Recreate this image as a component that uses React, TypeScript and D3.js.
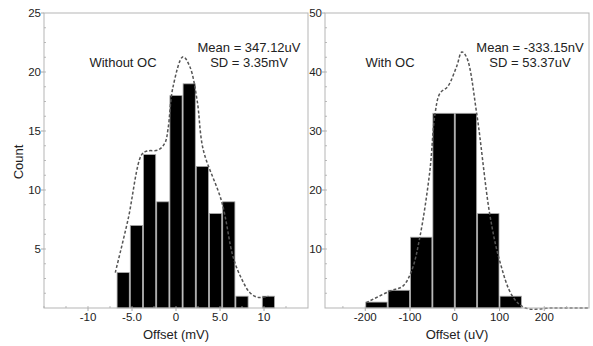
import React from "react";
import * as d3 from "d3";

// left panel: without offset cancellation (mV)
const leftEdges = [-6.75, -5.25, -3.75, -2.25, -0.75, 0.75, 2.25, 3.75, 5.25, 6.75, 8.25, 9.75, 11.25];
const leftCounts = [3, 7, 13, 9, 18, 19, 12, 8, 9, 1, 0, 1];
const leftCurveX = [-6.9, -5.45, -3.9, -3.3, -2.0, -1.25, -0.9, -0.35, 0.8, 1.6, 2.4, 3.1, 5.2, 6.5, 7.5, 8.4, 9.3, 10.5];
const leftCurveY = [3.0, 7.5, 13.0, 13.3, 13.4, 14.0, 15.2, 18.7, 21.3, 20.4, 17.6, 13.4, 9.0, 4.3, 2.4, 1.3, 0.9, 1.0];
const leftXTicks = [-10, -5, 0, 5, 10];
const leftXTickLabels = ["-10", "-5.0", "0", "5.0", "10"];
const leftYTicks = [5, 10, 15, 20, 25];

// right panel: with offset cancellation (uV)
const rightEdges = [-200, -150, -100, -50, 0, 50, 100, 150];
const rightCounts = [1, 3, 12, 33, 33, 16, 2];
const rightCurveX = [-198, -144, -116, -96, -78, -56, -44, -33, -16, 4, 16, 27, 49, 78, 100, 129, 158, 220, 298];
const rightCurveY = [0.9, 2.9, 3.7, 6.4, 12, 23, 33, 36.4, 37.5, 40.9, 43.4, 42.4, 33, 16, 8.1, 2, 0, 0, 0];
const rightXTicks = [-200, -100, 0, 100, 200];
const rightYTicks = [10, 20, 30, 40, 50];

const W = 593;
const H = 346;
const top = 13;
const bottom = 308;
const font = "'Liberation Sans', Arial, sans-serif";

interface PanelProps {
    x0: number;
    x1: number;
    xDomain: [number, number];
    yMax: number;
    edges: number[];
    counts: number[];
    curveX: number[];
    curveY: number[];
    xTicks: number[];
    xTickLabels: string[];
    yTicks: number[];
    xMinor: number;
    yMinor: number;
    xLabel: string;
    title: string;
    titleX: number;
    stat1: string;
    stat2: string;
    statX: number;
}

function Panel(p: PanelProps) {
    const x = d3.scaleLinear().domain(p.xDomain).range([p.x0, p.x1]);
    const y = d3.scaleLinear().domain([0, p.yMax]).range([bottom, top]);
    const line = d3.line<number>()
        .x((_, i) => x(p.curveX[i]))
        .y(d => y(d))
        .curve(d3.curveCatmullRom.alpha(0.5));

    const minorX = d3.range(Math.ceil(p.xDomain[0] / p.xMinor) * p.xMinor, p.xDomain[1], p.xMinor);
    const minorY = d3.range(p.yMinor, p.yMax, p.yMinor);

    return (
        <g>
            {p.counts.map((c, i) => c > 0 && (
                <rect key={i}
                    x={x(p.edges[i]) + 0.5}
                    y={y(c)}
                    width={x(p.edges[i + 1]) - x(p.edges[i]) - 1}
                    height={y(0) - y(c)}
                    fill="#000"
                    stroke="#aaa"
                    strokeWidth={0.8} />
            ))}
            <path d={line(p.curveY) || ""} fill="none" stroke="#555" strokeWidth={1.5} strokeDasharray="3,2" />
            <rect x={p.x0} y={top} width={p.x1 - p.x0} height={bottom - top} fill="none" stroke="#b5b5b5" strokeWidth={1} />
            {minorX.map((v, i) => (
                <line key={"mx" + i} x1={x(v)} x2={x(v)} y1={bottom} y2={bottom - 2} stroke="#aaa" strokeWidth={0.8} />
            ))}
            {minorY.map((v, i) => (
                <line key={"my" + i} x1={p.x0} x2={p.x0 + 2} y1={y(v)} y2={y(v)} stroke="#aaa" strokeWidth={0.8} />
            ))}
            {p.xTicks.map((v, i) => (
                <g key={"xt" + i}>
                    <line x1={x(v)} x2={x(v)} y1={bottom} y2={bottom + 3} stroke="#aaa" />
                    <text x={x(v)} y={bottom + 13} textAnchor="middle" fontSize={11.5} fontFamily={font} fill="#222">
                        {p.xTickLabels[i]}
                    </text>
                </g>
            ))}
            {p.yTicks.map((v, i) => (
                <g key={"yt" + i}>
                    <line x1={p.x0 - 3} x2={p.x0} y1={y(v)} y2={y(v)} stroke="#aaa" />
                    <text x={p.x0 - 3} y={y(v) + 4} textAnchor="end" fontSize={11.5} fontFamily={font} fill="#222">{v}</text>
                </g>
            ))}
            <text x={(p.x0 + p.x1) / 2} y={339} textAnchor="middle" fontSize={13} fontFamily={font} fill="#222">{p.xLabel}</text>
            <text x={p.titleX} y={67} textAnchor="middle" fontSize={13} fontFamily={font} fill="#222">{p.title}</text>
            <text x={p.statX} y={52} textAnchor="middle" fontSize={13} fontFamily={font} fill="#222">{p.stat1}</text>
            <text x={p.statX} y={67} textAnchor="middle" fontSize={13} fontFamily={font} fill="#222">{p.stat2}</text>
        </g>
    );
}

export default function App() {
    return (
        <div style={{ position: "absolute", left: 0, top: 0 }}>
            <svg width={W} height={H} style={{ display: "block", background: "#fff" }}>
                <Panel x0={44} x1={308} xDomain={[-15, 15]} yMax={25}
                    edges={leftEdges} counts={leftCounts}
                    curveX={leftCurveX} curveY={leftCurveY}
                    xTicks={leftXTicks} xTickLabels={leftXTickLabels} yTicks={leftYTicks}
                    xMinor={2.5} yMinor={1.25}
                    xLabel="Offset (mV)" title="Without OC" titleX={123}
                    stat1="Mean = 347.12uV" stat2="SD = 3.35mV" statX={249} />
                <Panel x0={325} x1={589} xDomain={[-290, 300]} yMax={50}
                    edges={rightEdges} counts={rightCounts}
                    curveX={rightCurveX} curveY={rightCurveY}
                    xTicks={rightXTicks} xTickLabels={rightXTicks.map(String)} yTicks={rightYTicks}
                    xMinor={50} yMinor={2.5}
                    xLabel="Offset (uV)" title="With OC" titleX={390}
                    stat1="Mean = -333.15nV" stat2="SD = 53.37uV" statX={530} />
                <text transform="translate(23,162) rotate(-90)" textAnchor="middle" fontSize={13} fontFamily={font} fill="#222">Count</text>
            </svg>
        </div>
    );
}
